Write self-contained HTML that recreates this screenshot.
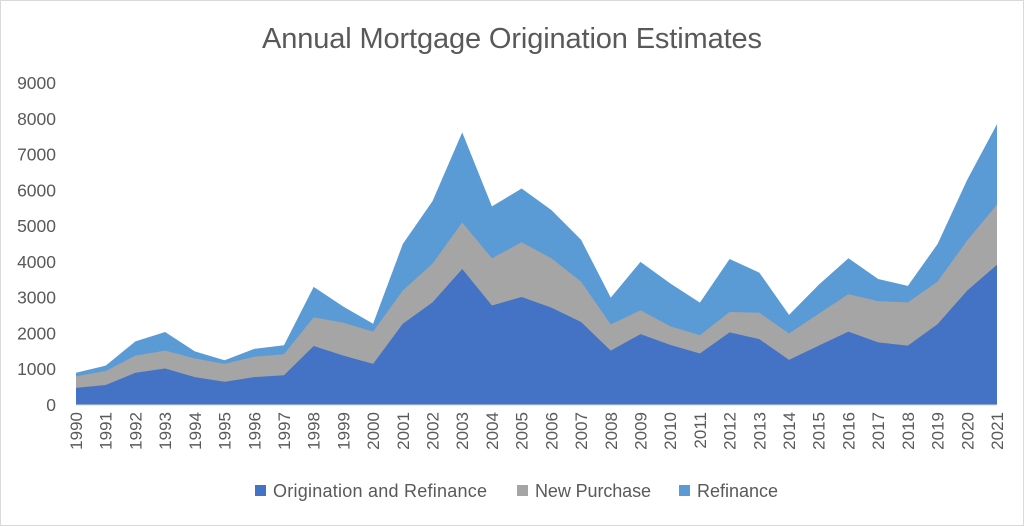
<!DOCTYPE html>
<html><head><meta charset="utf-8"><style>
html,body{margin:0;padding:0;background:#fff}
svg{display:block;font-family:"Liberation Sans",sans-serif}
</style></head><body>
<svg id="c" width="1024" height="526" xmlns="http://www.w3.org/2000/svg">
<rect x="0.5" y="0.5" width="1023" height="525" fill="#fff" stroke="#d9d9d9"/>
<text x="512" y="48" text-anchor="middle" font-size="29" fill="#595959" textLength="500">Annual Mortgage Origination Estimates</text>
<g id="g"></g>
<g font-size="18" fill="#595959">
<rect x="255" y="485" width="11" height="11" fill="#4472C4"/><text x="273" y="497" textLength="214">Origination and Refinance</text>
<rect x="517" y="485" width="11" height="11" fill="#A5A5A5"/><text x="535" y="497" textLength="116">New Purchase</text>
<rect x="679" y="485" width="11" height="11" fill="#5B9BD5"/><text x="697" y="497" textLength="81">Refinance</text>
</g>
</svg>
<script>
var tot=[900,1100,1780,2040,1500,1250,1570,1670,3300,2750,2270,4500,5700,7620,5550,6050,5450,4620,3000,4000,3400,2860,4080,3700,2520,3360,4100,3520,3330,4500,6300,7850];
var gr=[800,950,1380,1520,1300,1150,1350,1420,2450,2300,2050,3200,3950,5100,4100,4550,4100,3450,2250,2650,2200,1950,2600,2580,2000,2550,3100,2900,2870,3450,4600,5600];
var dk=[480,560,900,1020,780,650,780,830,1650,1380,1150,2270,2870,3800,2780,3020,2720,2320,1520,1980,1680,1440,2030,1840,1260,1660,2050,1750,1660,2260,3200,3920];
var x0=76,x1=997,y0=405,y9=83,n=32;
function X(i){return x0+(x1-x0)*i/(n-1)}
function Y(v){return y0-(y0-y9)*v/9000}
var s='';
for(var k=0;k<=9;k++){var y=Y(k*1000);s+='<text x="56" y="'+(y+6)+'" text-anchor="end" font-size="17.5" fill="#595959">'+(k*1000)+'</text>';}
function poly(a,c){var p=X(0)+','+y0;for(var i=0;i<n;i++)p+=' '+X(i)+','+Y(a[i]);p+=' '+X(n-1)+','+y0;return '<polygon points="'+p+'" fill="'+c+'"/>';}
s+=poly(tot,'#5B9BD5')+poly(gr,'#A5A5A5')+poly(dk,'#4472C4');
s+='<line x1="'+x0+'" y1="'+y0+'" x2="'+x1+'" y2="'+y0+'" stroke="#d9d9d9"/>';
for(var i=0;i<n;i++){var x=X(i);s+='<text transform="translate('+(x+6)+',412) rotate(-90)" text-anchor="end" font-size="17" fill="#595959">'+(1990+i)+'</text>';}
document.getElementById('g').innerHTML=s;
</script>
</body></html>
